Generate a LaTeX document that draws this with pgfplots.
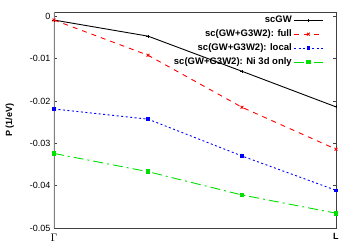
\documentclass[border=0pt]{standalone}
\usepackage{pgfplots}
\pgfplotsset{compat=1.18}
\usepackage{fontspec}
\setmainfont{Liberation Sans}
\definecolor{frame}{HTML}{404040}
\definecolor{ggreen}{HTML}{00E000}
\begin{document}
\begin{tikzpicture}
\useasboundingbox (-54pt,-20pt) rectangle (300pt,228pt);
\begin{axis}[
  scale only axis,
  width=282pt, height=216pt,
  xmin=0, xmax=3, ymin=-0.05, ymax=0.001,
  xtick={0,3}, xticklabels={{\fontsize{11}{12}\selectfont$\Gamma$},\textbf{L}},
  ytick={0,-0.01,-0.02,-0.03,-0.04,-0.05},
  yticklabels={0,-0.01,-0.02,-0.03,-0.04,-0.05},
  scaled y ticks=false,
  tick align=inside,
  major tick length=3pt,
  tick style={frame, line width=0.5pt},
  axis line style={frame, line width=0.9pt},
  ticklabel style={font=\fontsize{9}{10}\selectfont},
  xticklabel style={yshift=-2pt},
  ylabel={P (1/eV)},
  ylabel style={font=\fontsize{9}{10}\selectfont\bfseries, at={(axis description cs:-0.157,0.5)}, anchor=center},
  legend cell align=right,
  legend plot pos=right,
  legend style={draw=none, fill=none, at={(rel axis cs:0.955,0.99)}, anchor=north east,
    font=\fontsize{9.5}{10}\selectfont\bfseries, row sep=1.5pt, inner sep=0pt},
  legend image code/.code={\draw[mark repeat=2,mark phase=2,#1] plot coordinates {(0cm,0cm) (0.5cm,0cm) (1cm,0cm)};},
]
\addplot[black, line width=0.9pt, mark=+, mark size=1.5pt, mark options={solid}] coordinates {(0,-0.0009) (1,-0.0047) (2,-0.0130) (3,-0.0214)};
\addlegendentry{scGW}
\addplot[red, line width=0.9pt, dash pattern=on 5pt off 5pt, mark=x, mark size=2pt, mark options={solid}] coordinates {(0,-0.0009) (1,-0.0092) (2,-0.0215) (3,-0.0314)};
\addlegendentry{sc(GW+G3W2): full}
\addplot[blue, line width=0.9pt, dash pattern=on 2pt off 2.5pt, mark=square*, mark size=1.3pt, mark options={solid}] coordinates {(0,-0.0219) (1,-0.0243) (2,-0.0330) (3,-0.0411)};
\addlegendentry{sc(GW+G3W2): local}
\addplot[ggreen, line width=0.9pt, dash pattern=on 10pt off 4pt on 2pt off 4pt, mark=square*, mark size=1.8pt, mark options={solid}] coordinates {(0,-0.0324) (1,-0.0367) (2,-0.0422) (3,-0.0465)};
\addlegendentry{sc(GW+G3W2): Ni 3d only}
\draw[gray, line width=1.2pt] (rel axis cs:0,0) -- (rel axis cs:0,1);
\end{axis}
\end{tikzpicture}
\end{document}
